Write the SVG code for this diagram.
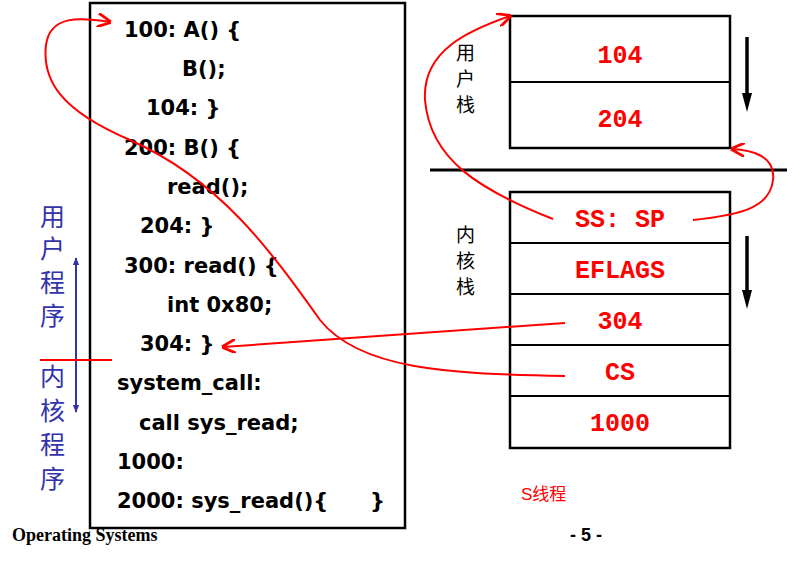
<svg xmlns="http://www.w3.org/2000/svg" width="792" height="571" viewBox="0 0 792 571">
<defs>
<style>
.code{font-family:"DejaVu Sans",Verdana,sans-serif;font-weight:bold;font-size:21px;fill:#000}
.stk{font-family:"Liberation Mono","Courier New",monospace;font-weight:bold;font-size:25px;fill:#f00;text-anchor:middle}
.cjk{font-family:"Noto Sans CJK SC",sans-serif;font-size:19px;fill:#000}
.blue{font-family:"Noto Sans CJK SC",sans-serif;font-size:25px;fill:#3333aa}
.box{fill:#fff;stroke:#000;stroke-width:2.5}
.red{fill:none;stroke:#f00;stroke-width:2}
</style>
<marker id="ar" viewBox="0 0 10 10" refX="9" refY="5" markerWidth="7" markerHeight="7" orient="auto-start-reverse"><path d="M0,0 L10,5 L0,10" fill="none" stroke="#f00" stroke-width="2"/></marker>
<marker id="bl" viewBox="0 0 10 10" refX="9" refY="5" markerWidth="8" markerHeight="8" orient="auto-start-reverse" markerUnits="userSpaceOnUse"><path d="M0,1 L10,5 L0,9 Z" fill="#3333aa"/></marker>
</defs>
<g id="code">
<rect class="box" x="90" y="3" width="315" height="525"/>
<text class="code" x="124" y="37">100: A() {</text>
<text class="code" x="182" y="76">B();</text>
<text class="code" x="146" y="115">104: }</text>
<text class="code" x="124" y="155">200: B() {</text>
<text class="code" x="167" y="194">read();</text>
<text class="code" x="140" y="233">204: }</text>
<text class="code" x="124" y="273">300: read() {</text>
<text class="code" x="167" y="312">int 0x80;</text>
<text class="code" x="140" y="351">304: }</text>
<text class="code" x="117" y="390">system_call:</text>
<text class="code" x="139" y="430">call sys_read;</text>
<text class="code" x="117" y="469">1000:</text>
<text class="code" x="117" y="508">2000: sys_read(){</text>
<text class="code" x="370" y="508">}</text>
</g>
<g id="labels-left">
<text class="blue" x="40" y="226">用</text>
<text class="blue" x="40" y="258">户</text>
<text class="blue" x="40" y="292">程</text>
<text class="blue" x="40" y="325">序</text>
<text class="blue" x="40" y="386">内</text>
<text class="blue" x="40" y="420">核</text>
<text class="blue" x="40" y="454">程</text>
<text class="blue" x="40" y="488">序</text>
<line x1="76" y1="258" x2="76" y2="412" stroke="#3333aa" stroke-width="2" marker-start="url(#bl)" marker-end="url(#bl)"/>
<line x1="40" y1="360" x2="112" y2="360" stroke="#f00" stroke-width="2"/>
</g>
<g id="user-stack">
<text class="cjk" x="456" y="60">用</text>
<text class="cjk" x="456" y="86">户</text>
<text class="cjk" x="456" y="112">栈</text>
<rect class="box" x="510" y="16" width="220" height="132"/>
<line x1="510" y1="82" x2="730" y2="82" stroke="#000" stroke-width="2"/>
<text class="stk" x="620" y="63">104</text>
<text class="stk" x="620" y="127">204</text>
<line x1="747" y1="37" x2="747" y2="95" stroke="#000" stroke-width="3.5"/>
<polygon points="742,93 752,93 747,112" fill="#000"/>
</g>
<line x1="430" y1="170" x2="787" y2="170" stroke="#000" stroke-width="3"/>
<g id="kernel-stack">
<text class="cjk" x="456" y="242">内</text>
<text class="cjk" x="456" y="268">核</text>
<text class="cjk" x="456" y="294">栈</text>
<rect class="box" x="510" y="192" width="220" height="256"/>
<line x1="510" y1="243" x2="730" y2="243" stroke="#000" stroke-width="2"/>
<line x1="510" y1="294" x2="730" y2="294" stroke="#000" stroke-width="2"/>
<line x1="510" y1="345" x2="730" y2="345" stroke="#000" stroke-width="2"/>
<line x1="510" y1="396" x2="730" y2="396" stroke="#000" stroke-width="2"/>
<text class="stk" x="620" y="227">SS: SP</text>
<text class="stk" x="620" y="278">EFLAGS</text>
<text class="stk" x="620" y="329">304</text>
<text class="stk" x="620" y="380">CS</text>
<text class="stk" x="620" y="431">1000</text>
<line x1="747" y1="236" x2="747" y2="292" stroke="#000" stroke-width="3.5"/>
<polygon points="742,290 752,290 747,309" fill="#000"/>
</g>
<g id="connectors">
<path class="red" d="M553,219 C480,190 430,160 425,100 C422,50 470,30 510,16" marker-end="url(#ar)"/>
<path class="red" d="M693,220 C740,215 770,208 773,180 C776,155 750,150 732,149" marker-end="url(#ar)"/>
<path class="red" d="M565,323 L223,347" marker-end="url(#ar)"/>
<path class="red" d="M565,376 C450,374 360,370 320,320 C270,250 220,180 130,140 C60,110 42,80 46,45 C50,15 80,17 110,22" marker-end="url(#ar)"/>
</g>
<g id="footer">
<text x="12" y="541" font-family="Liberation Serif,serif" font-weight="bold" font-size="18">Operating Systems</text>
<text x="570" y="541" font-family="Liberation Sans,sans-serif" font-weight="bold" font-size="18">- 5 -</text>
<text x="521" y="500" font-family="Liberation Sans,'Noto Sans CJK SC',sans-serif" font-size="17" fill="#f00">S线程</text>
</g>
</svg>
